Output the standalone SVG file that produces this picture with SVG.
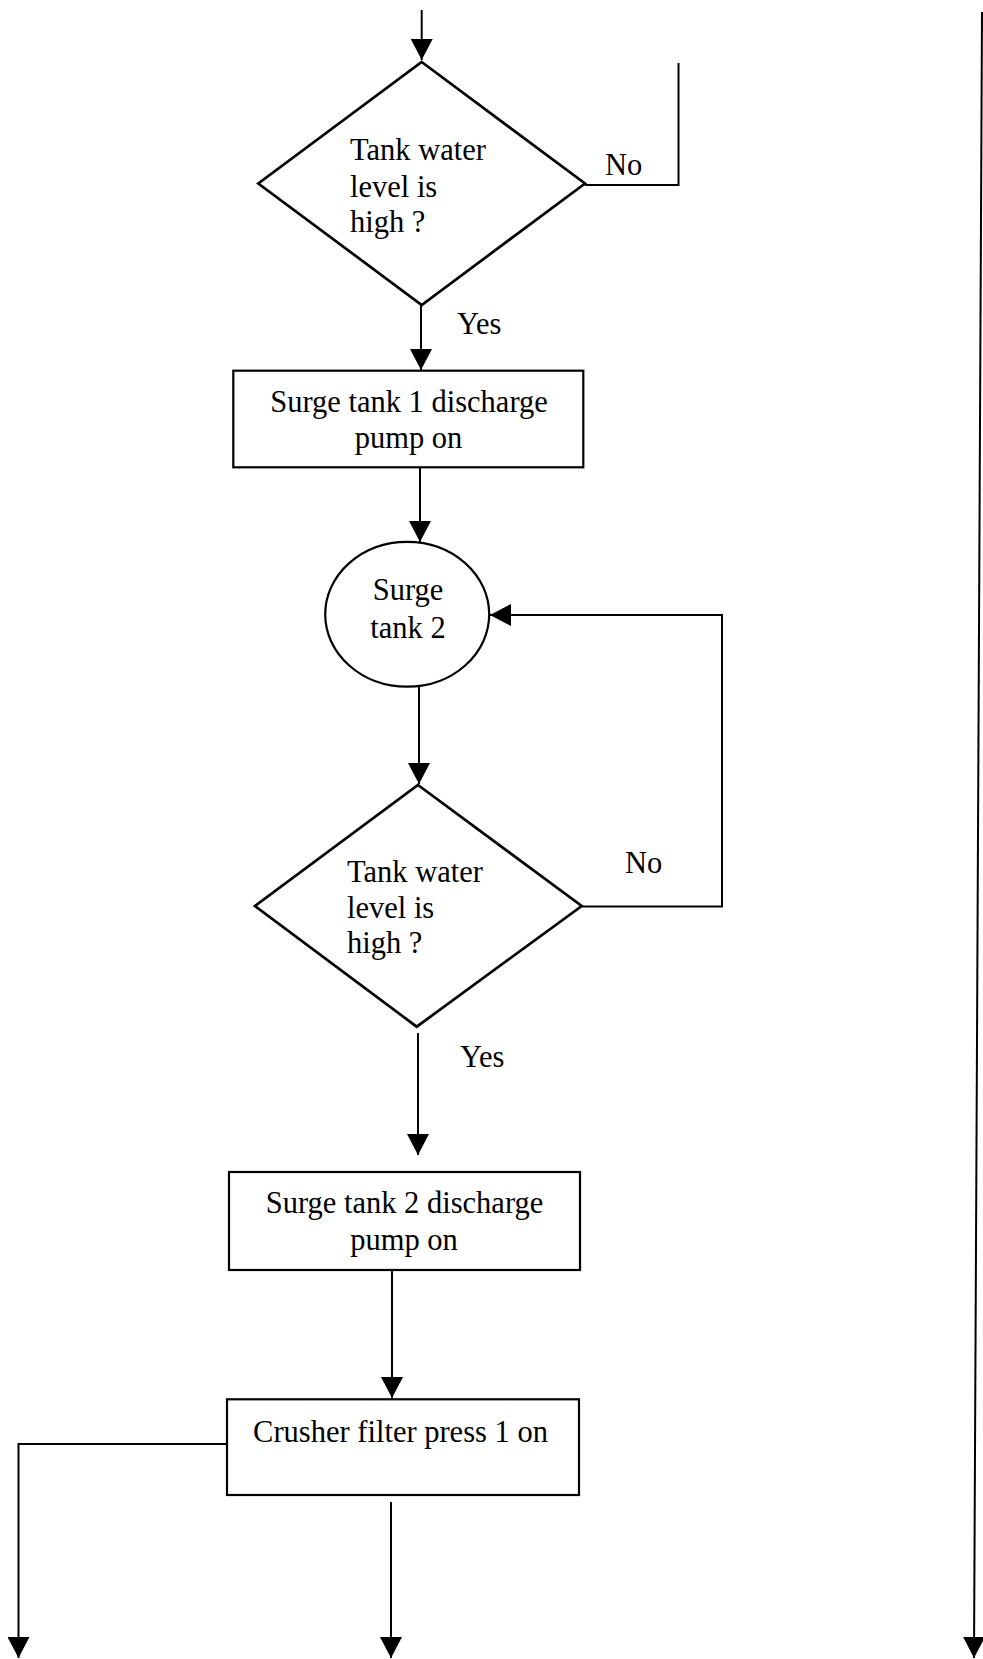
<svg xmlns="http://www.w3.org/2000/svg" width="983" height="1659" viewBox="0 0 983 1659">
  <style>
    .shape { fill: none; stroke: #000; stroke-width: 2.2; }
    .diamond { stroke-width: 2.7; }
    .wire { fill: none; stroke: #000; stroke-width: 2; }
    .lbl { font-family: "Liberation Serif", "Times New Roman", serif; font-size: 30.5px; fill: #000; }
    .mid { text-anchor: middle; }
  </style>
  <defs>
    <marker id="arrow" markerUnits="userSpaceOnUse" markerWidth="22" markerHeight="22" viewBox="0 0 22 22" refX="21" refY="11" orient="auto">
      <path d="M0,0 L21,11 L0,22 Z" fill="#000"/>
    </marker>
  </defs>
  <rect width="983" height="1659" fill="#fff"/>

  <!-- connectors -->
  <g id="connectors">
    <line class="wire" x1="421.7" y1="10" x2="421.7" y2="60" marker-end="url(#arrow)"/>
    <polyline class="wire" points="585,185 678.5,185 678.5,63"/>
    <line class="wire" x1="421" y1="305" x2="421" y2="370" marker-end="url(#arrow)"/>
    <line class="wire" x1="420" y1="467" x2="420" y2="542" marker-end="url(#arrow)"/>
    <line class="wire" x1="419" y1="687" x2="419" y2="784" marker-end="url(#arrow)"/>
    <polyline class="wire" points="582,906.5 722,906.5 722,615 490,615" marker-end="url(#arrow)"/>
    <line class="wire" x1="418" y1="1033" x2="418" y2="1155" marker-end="url(#arrow)"/>
    <line class="wire" x1="392" y1="1270" x2="392" y2="1398" marker-end="url(#arrow)"/>
    <polyline class="wire" points="227,1444 18.5,1444 18.5,1658" marker-end="url(#arrow)"/>
    <line class="wire" x1="391" y1="1502" x2="391" y2="1658" marker-end="url(#arrow)"/>
    <line class="wire" x1="982" y1="12" x2="974" y2="1658" marker-end="url(#arrow)"/>
  </g>

  <!-- connector labels -->
  <g id="labels">
    <text class="lbl" x="605" y="175">No</text>
    <text class="lbl" x="457" y="334">Yes</text>
    <text class="lbl" x="625" y="873">No</text>
    <text class="lbl" x="460" y="1067">Yes</text>
  </g>

  <g id="decision1">
    <polygon class="shape diamond" points="421.7,62 585,183.5 421.7,305 258.3,183.5"/>
    <text class="lbl" x="350" y="160">Tank water</text>
    <text class="lbl" x="350" y="197">level is</text>
    <text class="lbl" x="350" y="232">high ?</text>
  </g>

  <g id="pump1">
    <rect class="shape" x="233.3" y="370.7" width="350" height="96.6"/>
    <text class="lbl mid" x="409" y="411.7">Surge tank 1 discharge</text>
    <text class="lbl mid" x="408.5" y="448.3">pump on</text>
  </g>

  <g id="tank2">
    <ellipse class="shape" cx="407.2" cy="614.3" rx="82" ry="72.4"/>
    <text class="lbl mid" x="408" y="600">Surge</text>
    <text class="lbl mid" x="408" y="638">tank 2</text>
  </g>

  <g id="decision2">
    <polygon class="shape diamond" points="418,785 581.7,906 416.7,1026.7 255,906"/>
    <text class="lbl" x="347" y="881.7">Tank water</text>
    <text class="lbl" x="347" y="918.3">level is</text>
    <text class="lbl" x="347" y="953.3">high ?</text>
  </g>

  <g id="pump2">
    <rect class="shape" x="229" y="1172" width="351" height="98"/>
    <text class="lbl mid" x="404.5" y="1213">Surge tank 2 discharge</text>
    <text class="lbl mid" x="404" y="1250">pump on</text>
  </g>

  <g id="press1">
    <rect class="shape" x="227" y="1399.3" width="352" height="95.7"/>
    <text class="lbl mid" x="400.5" y="1441.7">Crusher filter press 1 on</text>
  </g>
</svg>
